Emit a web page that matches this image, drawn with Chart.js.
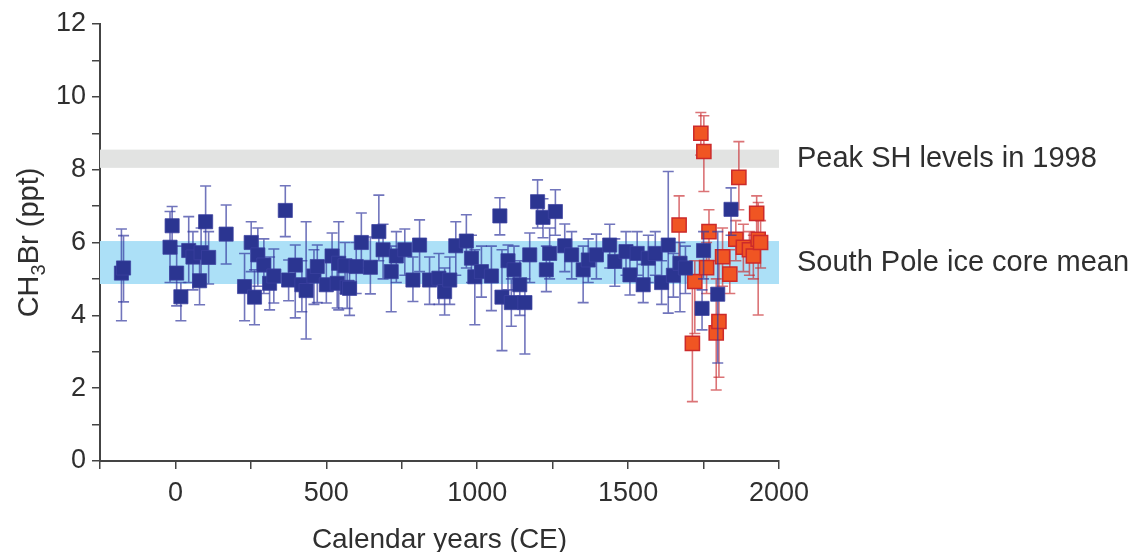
<!DOCTYPE html>
<html><head><meta charset="utf-8">
<script src="https://cdn.jsdelivr.net/npm/chart.js@4.4.1/dist/chart.umd.min.js"></script>
<style>html,body{margin:0;padding:0;background:#fff;}#wrap{width:1135px;height:552px;}</style>
</head><body><div id="wrap"><canvas id="c" width="1135" height="552"></canvas></div>
<script>
// South Pole ice core (blue)
const iceYears  = [-179,-172,-18,-11,4,18,44,58,80,85,100,110,168,229,251,262,273,293,312,326,364,375,397,419,433,459,470,500,519,536,541,562,569,577,599,616,646,674,688,715,732,760,787,809,842,873,892,909,929,964,981,992,1014,1047,1075,1082,1102,1113,1122,1141,1158,1174,1200,1218,1229,1240,1259,1290,1313,1351,1368,1395,1439,1456,1493,1506,1530,1550,1567,1590,1611,1633,1650,1672,1690,1745,1750,1797,1841];
const iceValues = [5.16,5.30,5.87,6.46,5.16,4.51,5.78,5.60,4.95,5.72,6.57,5.59,6.23,4.79,6.00,4.50,5.66,5.38,4.88,5.08,6.88,4.97,5.38,4.84,4.68,5.08,5.34,4.84,5.63,4.88,5.43,5.36,4.77,4.74,5.34,6.00,5.32,6.30,5.80,5.20,5.63,5.80,4.97,5.93,4.97,5.02,4.65,4.97,5.91,6.04,5.57,5.06,5.20,5.08,6.73,4.50,5.50,4.35,5.25,4.84,4.35,5.66,7.12,6.69,5.25,5.70,6.85,5.91,5.66,5.25,5.52,5.66,5.93,5.48,5.75,5.11,5.70,4.84,5.57,5.70,4.90,5.93,5.10,5.43,5.30,4.19,5.78,4.58,6.91];
const iceLow    = [3.85,4.37,4.90,5.90,4.26,3.85,4.90,4.70,4.29,4.90,5.60,4.86,5.41,3.85,5.20,3.74,4.80,4.60,4.15,4.34,6.16,4.40,3.93,4.10,3.35,4.30,4.35,4.34,4.90,4.20,4.15,4.60,4.19,4.00,4.60,5.30,4.59,5.50,5.00,4.10,4.90,5.10,4.38,5.20,4.30,4.30,4.01,4.30,5.10,5.30,4.90,3.74,4.50,4.13,6.21,3.03,4.70,3.70,4.50,4.00,2.94,4.90,6.40,6.13,4.65,5.00,6.20,5.20,5.00,4.35,4.90,5.00,5.30,4.80,5.10,4.56,5.10,4.35,4.90,5.10,4.30,4.06,4.50,4.10,4.60,3.60,5.00,2.69,6.20];
const iceHigh   = [6.37,6.19,6.85,6.99,5.90,4.90,6.71,6.30,5.60,6.40,7.55,6.30,7.03,5.70,6.57,5.25,6.40,6.10,5.60,5.82,7.56,5.52,5.93,5.50,6.57,5.80,5.93,5.50,6.26,5.60,6.57,6.00,5.50,5.40,6.00,6.81,6.15,7.30,6.50,5.90,6.30,6.37,5.60,6.62,5.60,5.70,5.30,5.60,6.57,6.76,6.20,5.80,5.90,5.90,7.23,5.80,5.93,5.00,5.90,5.50,5.00,6.26,7.72,7.20,5.90,6.40,7.45,6.51,6.30,5.90,6.10,6.23,6.50,6.10,6.30,5.70,6.30,5.40,6.20,6.30,5.50,7.95,5.70,6.00,5.90,4.70,6.30,6.30,7.50];
// Firn / recent samples (orange)
const firnYears  = [1669,1713,1721,1741,1751,1760,1768,1792,1801,1813,1837,1857,1867,1882,1902,1915,1926,1931,1939];
const firnValues = [6.48,3.23,4.93,9.00,8.50,5.31,6.30,3.52,3.83,5.61,5.13,6.09,7.79,5.87,5.80,5.63,6.80,6.09,6.00];
const firnLow    = [5.61,1.63,3.50,8.40,7.40,4.60,5.50,1.95,2.30,4.80,4.60,5.50,6.90,5.20,5.10,5.00,6.00,4.01,5.30];
const firnHigh   = [7.28,4.90,5.50,9.57,9.48,6.00,6.90,5.00,5.50,6.40,5.80,6.60,8.77,6.50,6.30,6.20,7.28,7.10,6.60];
// Reference bands
const peakBand = [8.05, 8.55];
const meanBand = [4.86, 6.04];
const bandLabels = ['Peak SH levels in 1998', 'South Pole ice core mean'];
const xTickLabels = [0, 500, 1000, 1500, 2000];
const yTickLabels = [0, 2, 4, 6, 8, 10, 12];

const FONT = "'Liberation Sans', Arial, Helvetica, sans-serif";
const TXT = '#2f2f2f';

function pts(xs, ys, lo, hi){ return xs.map((x,i)=>({x:x, y:ys[i], lo:lo[i], hi:hi[i]})); }

const bandPlugin = {
  id:'bands',
  beforeDatasetsDraw(chart){
    const {ctx, chartArea:a, scales:{y}} = chart;
    ctx.save();
    ctx.fillStyle = '#e2e3e2';
    ctx.fillRect(a.left, y.getPixelForValue(peakBand[1]), a.right-a.left, y.getPixelForValue(peakBand[0])-y.getPixelForValue(peakBand[1]));
    ctx.fillStyle = '#ace0f7';
    ctx.fillRect(a.left, y.getPixelForValue(meanBand[1]), a.right-a.left, y.getPixelForValue(meanBand[0])-y.getPixelForValue(meanBand[1]));
    ctx.restore();
  },
  afterDraw(chart){
    const {ctx, chartArea:a, scales:{y}} = chart;
    ctx.save();
    ctx.fillStyle = TXT;
    ctx.font = '29px ' + FONT;
    ctx.textBaseline = 'middle';
    ctx.textAlign = 'left';
    ctx.fillText(bandLabels[0], a.right+18, y.getPixelForValue((peakBand[0]+peakBand[1])/2));
    ctx.fillText(bandLabels[1], a.right+18, y.getPixelForValue((meanBand[0]+meanBand[1])/2));
    // y axis title with subscript
    ctx.translate(28, (a.top+a.bottom)/2);
    ctx.rotate(-Math.PI/2);
    const big = '29px ' + FONT, small = '20px ' + FONT;
    ctx.font = big; const w1 = ctx.measureText('CH').width; const w3 = ctx.measureText('Br (ppt)').width;
    ctx.font = small; const w2 = ctx.measureText('3').width;
    let x0 = -(w1+w2+w3)/2;
    ctx.textBaseline = 'alphabetic';
    ctx.font = big; ctx.fillText('CH', x0, 10);
    ctx.font = small; ctx.fillText('3', x0+w1, 17);
    ctx.font = big; ctx.fillText('Br (ppt)', x0+w1+w2, 10);
    ctx.restore();
  }
};

const errPlugin = {
  id:'err',
  beforeDatasetDraw(chart, args){
    const ds = chart.data.datasets[args.index];
    const {ctx, scales:{x, y}} = chart;
    ctx.save();
    ctx.strokeStyle = ds.errColor;
    ctx.lineWidth = 1.6;
    ds.data.forEach(p=>{
      const px = x.getPixelForValue(p.x), yl = y.getPixelForValue(p.lo), yh = y.getPixelForValue(p.hi);
      ctx.beginPath();
      ctx.moveTo(px, yl); ctx.lineTo(px, yh);
      ctx.moveTo(px-5.5, yl); ctx.lineTo(px+5.5, yl);
      ctx.moveTo(px-5.5, yh); ctx.lineTo(px+5.5, yh);
      ctx.stroke();
    });
    ctx.restore();
  }
};

new Chart(document.getElementById('c'), {
  type:'scatter',
  data:{ datasets:[
    { label:'ice', data:pts(iceYears, iceValues, iceLow, iceHigh), pointStyle:'rect', pointRadius:10,
      backgroundColor:'#2b3591', borderColor:'rgba(60,66,160,0.75)', borderWidth:1, errColor:'rgba(52,58,160,0.7)' },
    { label:'firn', data:pts(firnYears, firnValues, firnLow, firnHigh), pointStyle:'rect', pointRadius:10,
      backgroundColor:'#f05523', borderColor:'#cc2a2a', borderWidth:1.5, errColor:'rgba(200,40,45,0.65)' }
  ]},
  options:{
    responsive:false, animation:false, devicePixelRatio:1,
    events:[],
    layout:{ padding:{ left:0, top:24, right:356, bottom:0 } },
    plugins:{ legend:{display:false}, tooltip:{enabled:false} },
    scales:{
      x:{ type:'linear', min:-250, max:2000,
        afterFit(s){ s.height = 91; },
        ticks:{ stepSize:250, autoSkip:false, maxRotation:0, padding:8, color:TXT, font:{family:FONT, size:27},
          callback:v => xTickLabels.includes(v) ? String(v) : '' },
        grid:{ drawOnChartArea:false, drawTicks:true, tickLength:8, color:'#444', lineWidth:1.5 },
        border:{ display:true, color:'#444', width:2 },
        title:{ display:true, text:'Calendar years (CE)', color:TXT, font:{family:FONT, size:28}, padding:{top:0,bottom:-5} }
      },
      y:{ type:'linear', min:0, max:12,
        afterFit(s){ s.width = 100; },
        ticks:{ stepSize:1, autoSkip:false, padding:6, color:TXT, font:{family:FONT, size:27},
          callback:v => yTickLabels.includes(v) ? String(v) : '' },
        grid:{ drawOnChartArea:false, drawTicks:true, tickLength:8, color:'#444', lineWidth:1.5 },
        border:{ display:true, color:'#444', width:2 }
      }
    }
  },
  plugins:[bandPlugin, errPlugin]
});
</script></body></html>
